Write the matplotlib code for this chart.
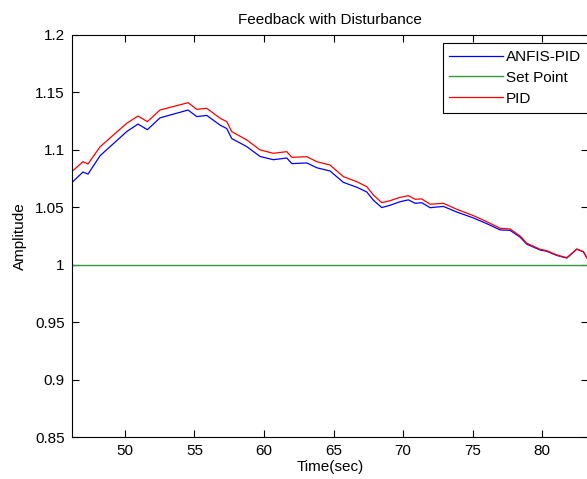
import matplotlib
matplotlib.use("Agg")
import matplotlib.pyplot as plt
from matplotlib.ticker import FuncFormatter

plt.rcParams['font.family'] = ['Liberation Sans', 'DejaVu Sans']

# tempo (s)
tempo = [46.17, 46.98, 47.34, 48.21, 50.13, 50.94, 51.61, 52.52, 54.54, 55.16,
         55.88, 56.85, 57.32, 57.68, 58.76, 59.72, 60.67, 61.64, 62.00, 63.08,
         63.80, 64.75, 65.71, 66.67, 67.39, 67.87, 68.47, 69.07, 69.79, 70.39,
         70.87, 71.35, 71.95, 72.90, 73.87, 75.06, 76.03, 76.98, 77.70, 78.42,
         78.90, 79.86, 80.34, 81.06, 81.78, 82.50, 82.98, 83.25]

anfis_pid = [1.0713, 1.0806, 1.0788, 1.0948, 1.1158, 1.1223, 1.1174, 1.1277, 1.1345, 1.1288,
             1.1298, 1.1213, 1.1184, 1.1097, 1.1027, 1.0941, 1.0913, 1.0928, 1.0879, 1.0885,
             1.0843, 1.0815, 1.0716, 1.0674, 1.0633, 1.0561, 1.0497, 1.0517, 1.0548, 1.0564,
             1.0534, 1.0539, 1.0496, 1.0507, 1.0458, 1.0407, 1.0357, 1.0303, 1.0299, 1.0240,
             1.0179, 1.0128, 1.0117, 1.0081, 1.0058, 1.0135, 1.0111, 1.0055]

pid = [1.0809, 1.0896, 1.0876, 1.1026, 1.1230, 1.1293, 1.1244, 1.1345, 1.1409, 1.1351,
       1.1360, 1.1273, 1.1244, 1.1157, 1.1085, 1.0998, 1.0969, 1.0983, 1.0934, 1.0939,
       1.0896, 1.0867, 1.0766, 1.0722, 1.0679, 1.0606, 1.0540, 1.0557, 1.0586, 1.0600,
       1.0569, 1.0572, 1.0526, 1.0534, 1.0482, 1.0427, 1.0374, 1.0317, 1.0311, 1.0250,
       1.0187, 1.0134, 1.0122, 1.0085, 1.0061, 1.0137, 1.0113, 1.0056]

set_point = 1.0
xticks = [50, 55, 60, 65, 70, 75, 80]
yticks = [0.85, 0.9, 0.95, 1.0, 1.05, 1.1, 1.15, 1.2]

fig = plt.figure(figsize=(5.87, 4.79), dpi=100)
ax = fig.add_axes([0.1222, 0.0871, 0.8796, 0.8405])

ax.plot(tempo, anfis_pid, color='b', lw=0.9, label='ANFIS-PID')
ax.plot([40, 90], [set_point, set_point], color='#2f9a3a', lw=1.0, label='Set Point')
ax.plot(tempo, pid, color='r', lw=0.9, label='PID')

ax.set_xlim(46.17, 83.31)
ax.set_ylim(0.85, 1.2)
ax.set_xticks(xticks)
ax.set_yticks(yticks)
ax.yaxis.set_major_formatter(FuncFormatter(lambda v, p: '%g' % v))
ax.tick_params(direction='in', length=5, width=0.8, top=True, right=True,
               labelsize=11, pad=5)
for s in ax.spines.values():
    s.set_linewidth(0.8)

ax.set_title('Feedback with Disturbance', fontsize=11, pad=8)
ax.set_xlabel('Time(sec)', fontsize=11, labelpad=1)
ax.set_ylabel('Amplitude', fontsize=11, labelpad=6)

leg = ax.legend(loc='upper right', bbox_to_anchor=(588 / 587, 1 - 43 / 479),
                bbox_transform=fig.transFigure, fontsize=11, fancybox=False,
                framealpha=1, edgecolor='black', handlelength=3.5,
                handletextpad=0.2, labelspacing=0.45, borderpad=0.45,
                borderaxespad=0)
leg.get_frame().set_linewidth(0.8)

fig.savefig('out.png', dpi=100)
